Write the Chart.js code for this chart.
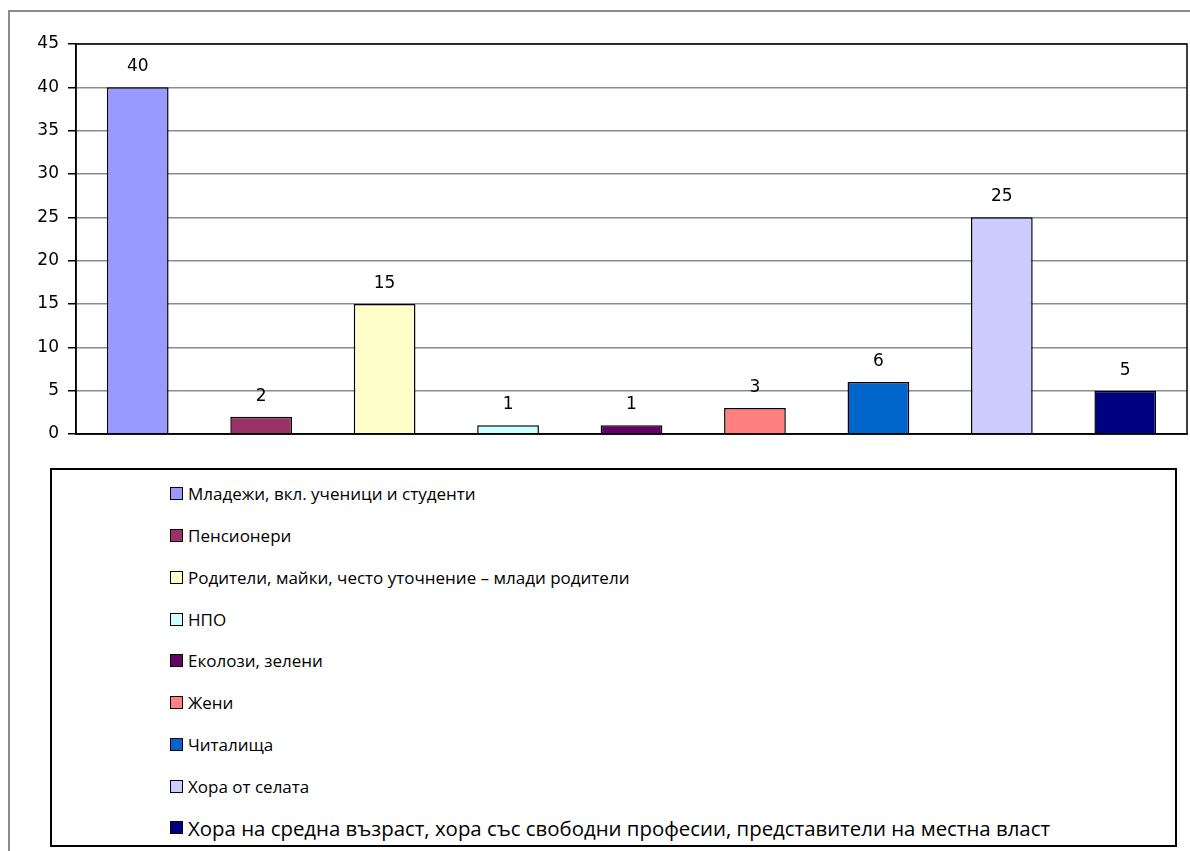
<!DOCTYPE html>
<html>
<head>
<meta charset="utf-8">
<script src="https://cdn.jsdelivr.net/npm/chart.js@4.4.0/dist/chart.umd.min.js"></script>
<style>
    body { margin: 0; background: #fff; width: 1190px; height: 851px; overflow: hidden; position: relative; }
    #frame { position: absolute; left: 8px; top: 10px; width: 1200px; height: 860px; border: 2px solid #8c8c8c; box-sizing: border-box; }
    #wrap { position: absolute; left: 0; top: 0; width: 1190px; height: 460px; }
    #legend { position: absolute; left: 50px; top: 468px; width: 1127px; height: 379px; border: 2px solid #000; box-sizing: border-box; padding: 3px 0 0 118px; background: #fff; font-family: 'Open Sans', sans-serif; font-size: 17px; color: #000; }
    .item { height: 41.75px; display: flex; align-items: center; }
    .item.big { font-size: 20.4px; }
    .box { width: 11px; height: 11px; border: 1.5px solid #000; margin-right: 5px; }
</style>
</head>
<body>
<div id="frame"></div>
<div id="wrap"><canvas id="chart"></canvas></div>
<div id="legend"></div>
<script>
const categories = [
    'Младежи, вкл. ученици и студенти',
    'Пенсионери',
    'Родители, майки, често уточнение – млади родители',
    'НПО',
    'Еколози, зелени',
    'Жени',
    'Читалища',
    'Хора от селата',
    'Хора на средна възраст, хора със свободни професии, представители на местна власт'
];
const values = [40, 2, 15, 1, 1, 3, 6, 25, 5];
const colors = ['#9999ff', '#993366', '#ffffcc', '#ccffff', '#660066', '#ff8080', '#0066cc', '#ccccff', '#000080'];
const yTicks = [0, 5, 10, 15, 20, 25, 30, 35, 40, 45];

// labels above bars + black frame round the plot area
const extras = {
    id: 'extras',
    afterDatasetsDraw(chart) {
        const ctx = chart.ctx;
        const area = chart.chartArea;
        ctx.save();
        ctx.strokeStyle = '#000';
        ctx.lineWidth = 1.5;
        ctx.strokeRect(area.left, area.top, area.right - area.left, area.bottom - area.top);
        ctx.fillStyle = '#000';
        ctx.font = '17px "DejaVu Sans", sans-serif';
        ctx.textAlign = 'center';
        ctx.textBaseline = 'bottom';
        chart.getDatasetMeta(0).data.forEach((bar, i) => {
            ctx.fillText(values[i], bar.x, bar.y - 12);
        });
        ctx.restore();
    }
};

new Chart(document.getElementById('chart'), {
    type: 'bar',
    data: {
        labels: categories,
        datasets: [{
            data: values,
            backgroundColor: colors,
            borderColor: '#000',
            borderWidth: 1.5,
            barPercentage: 0.5,
            categoryPercentage: 1
        }]
    },
    options: {
        responsive: true,
        maintainAspectRatio: false,
        animation: false,
        layout: { padding: { left: 0, right: 3, top: 44, bottom: 26 } },
        plugins: { legend: { display: false }, tooltip: { enabled: false } },
        scales: {
            x: {
                ticks: { display: false },
                grid: { display: false },
                border: { color: '#000', width: 1.5 },
                afterFit: scale => { scale.height = 0; }
            },
            y: {
                min: 0,
                max: 45,
                afterBuildTicks: scale => { scale.ticks = yTicks.map(v => ({ value: v })); },
                ticks: { color: '#000', font: { family: 'DejaVu Sans', size: 17 }, padding: 9 },
                grid: { color: '#8c8c8c', lineWidth: 1.5, tickLength: 8, tickColor: '#000' },
                border: { color: '#000', width: 1.5 },
                afterFit: scale => { scale.width = 76; }
            }
        }
    },
    plugins: [extras]
});

// legend: one row per category, the last one is set bigger like the original
const legend = document.getElementById('legend');
categories.forEach((name, i) => {
    const row = document.createElement('div');
    row.className = i === categories.length - 1 ? 'item big' : 'item';
    const box = document.createElement('span');
    box.className = 'box';
    box.style.background = colors[i];
    const text = document.createElement('span');
    text.textContent = name;
    row.appendChild(box);
    row.appendChild(text);
    legend.appendChild(row);
});
</script>
</body>
</html>
